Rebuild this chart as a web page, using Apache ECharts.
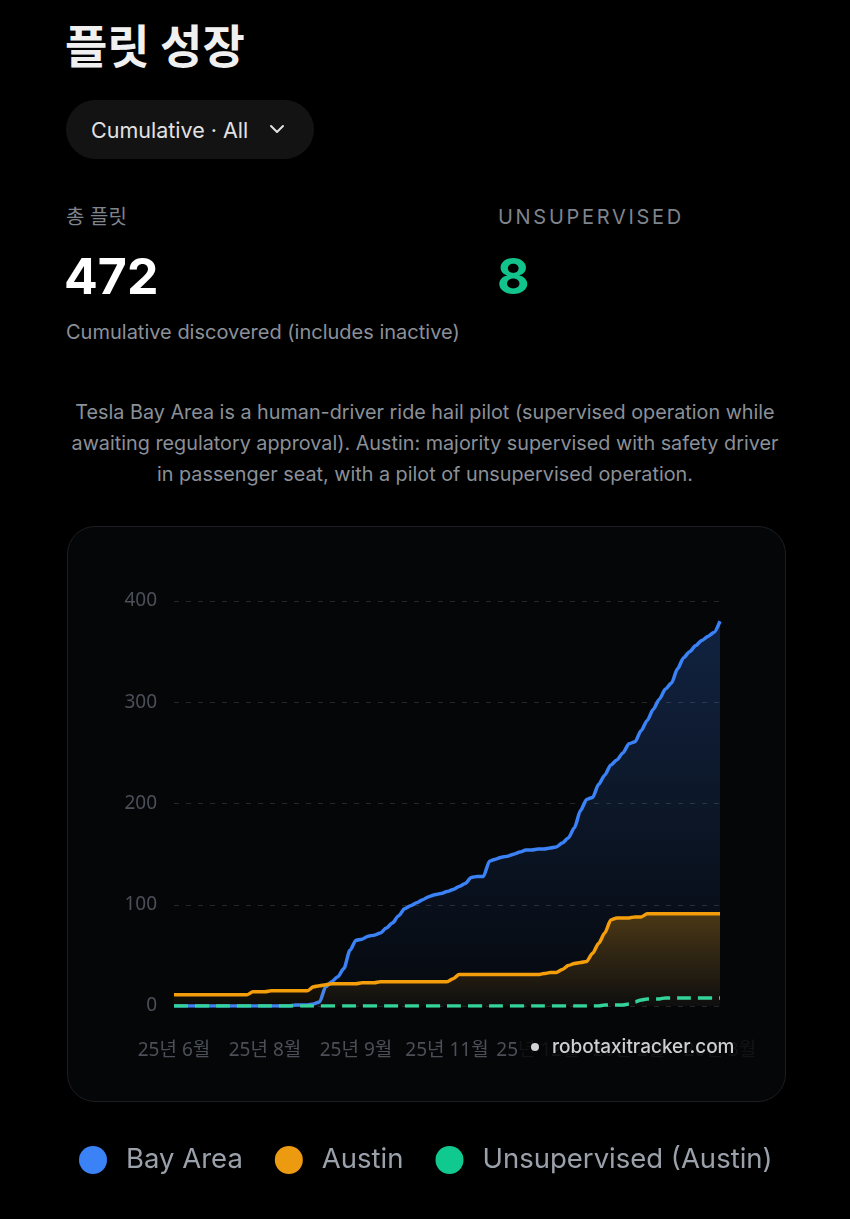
<!DOCTYPE html>
<html>
<head>
<meta charset="utf-8">
<script src="https://cdn.jsdelivr.net/npm/echarts@6/dist/echarts.min.js"></script>
<style>
  html, body { margin:0; padding:0; background:#000; }
  body { width:850px; height:1219px; position:relative; overflow:hidden; font-family: Inter, "Noto Sans CJK KR", sans-serif; }
  .abs { position:absolute; white-space:nowrap; }
  #title { left:65px; top:20px; font-size:46px; line-height:46px; height:46px; font-weight:700; color:#f0f0f0; font-family:"Noto Sans CJK KR", Inter, sans-serif; }
  #pill { left:66px; top:100px; width:248px; height:59px; border-radius:30px; background:#131314; }
  #pillText { left:91px; top:115px; height:30px; line-height:30px; font-size:21.5px; color:#e2e2e2; }
  #chev { left:268px; top:122px; }
  .lbl { font-size:20px; color:#7f848d; height:24px; line-height:24px; }
  .big { font-size:50px; font-weight:700; height:56px; line-height:56px; }
  #desc { left:0px; width:850px; top:397px; text-align:center; font-size:19.8px; line-height:31px; color:#8b9099; white-space:normal; }
  #card { left:67px; top:526px; width:717px; height:574px; border-radius:28px; border:1px solid #1d1e21; background:#050608; }
  #chart { position:absolute; left:0; top:510px; width:850px; height:700px; }
</style>
</head>
<body>
<div id="title" class="abs">플릿 성장</div>
<div id="pill" class="abs"></div>
<div id="pillText" class="abs">Cumulative · All</div>
<svg id="chev" class="abs" width="18" height="14" viewBox="0 0 18 14"><polyline points="3,4 9,10 15,4" fill="none" stroke="#e2e2e2" stroke-width="2" stroke-linecap="round" stroke-linejoin="round"/></svg>
<div class="abs lbl" style="left:66px;top:205px;">총 플릿</div>
<div class="abs lbl" style="left:498px;top:205px;letter-spacing:2.7px;">UNSUPERVISED</div>
<div class="abs big" style="left:64px;top:248px;color:#ffffff;">472</div>
<div class="abs big" style="left:497px;top:248px;color:#12c48b;">8</div>
<div class="abs lbl" style="left:66px;top:320px;color:#8b9099;">Cumulative discovered (includes inactive)</div>
<div id="desc" class="abs">Tesla Bay Area is a human-driver ride hail pilot (supervised operation while<br>awaiting regulatory approval). Austin: majority supervised with safety driver<br>in passenger seat, with a pilot of unsupervised operation.</div>
<div id="card" class="abs"></div>
<div id="chart"></div>
<script>
const dates = [
 '2025-06-22','2025-06-25','2025-06-28','2025-07-01','2025-07-04','2025-07-07','2025-07-10','2025-07-13','2025-07-16','2025-07-19',
 '2025-07-22','2025-07-25','2025-07-28','2025-07-30','2025-07-31','2025-08-01','2025-08-04','2025-08-07','2025-08-10','2025-08-13',
 '2025-08-16','2025-08-19','2025-08-22','2025-08-25','2025-08-28','2025-08-31','2025-09-02','2025-09-04','2025-09-06','2025-09-08',
 '2025-09-10','2025-09-14','2025-09-18','2025-09-22','2025-09-26','2025-09-30','2025-10-04','2025-10-08','2025-10-12','2025-10-16',
 '2025-10-20','2025-10-24','2025-10-28','2025-10-31','2025-11-02','2025-11-04','2025-11-07','2025-11-10','2025-11-13','2025-11-16',
 '2025-11-19','2025-11-22','2025-11-25','2025-11-28','2025-11-30','2025-12-02','2025-12-04','2025-12-06','2025-12-08','2025-12-10',
 '2025-12-12','2025-12-15','2025-12-18','2025-12-21','2025-12-24','2025-12-27','2025-12-30','2026-01-03','2026-01-07','2026-01-11',
 '2026-01-15','2026-01-19','2026-01-23','2026-01-27','2026-01-31','2026-02-02','2026-02-05','2026-02-08','2026-02-11','2026-02-14',
 '2026-02-17','2026-02-20','2026-02-23','2026-02-25','2026-02-27','2026-03-01','2026-03-03','2026-03-05','2026-03-07','2026-03-09',
 '2026-03-11'
];
const bayArea = [
 0,0,0,0,0,0,0,0,0,0,
 0,0,0,0,0,0,0,0,0,0,
 1,1,1,2,4,19,24,29,37,55,
 65,66,69,70,72,77,82,89,96,99,
 102,105,108,110,111,113,115,118,121,127,
 128,128,143,145,147,148,150,152,154,154,
 155,155,156,157,161,166,176,193,204,206,
 219,228,238,243,250,259,261,272,282,293,
 303,313,319,333,344,350,356,361,365,369,
 380
];
const austin = [
 11,11,11,11,11,11,11,11,11,11,
 11,11,11,14,14,14,15,15,15,15,
 15,15,15,19,20,21,22,22,22,22,
 22,23,23,23,24,24,24,24,24,24,
 24,24,24,24,24,24,27,31,31,31,
 31,31,31,31,31,31,31,31,31,31,
 31,32,33,33,36,40,42,43,44,52,
 62,72,85,87,87,87,88,88,91,91,
 91,91,91,91,91,91,91,91,91,91,
 91
];
const unsupervised = [
 0,0,0,0,0,0,0,0,0,0,
 0,0,0,0,0,0,0,0,0,0,
 0,0,0,0,0,0,0,0,0,0,
 0,0,0,0,0,0,0,0,0,0,
 0,0,0,0,0,0,0,0,0,0,
 0,0,0,0,0,0,0,0,0,0,
 0,0,0,0,0,0,0,0,0,0,
 0,1,1,1,1,2,4,6,7,7,
 7,8,8,8,8,8,8,8,8,8,
 8
];
const yTicks = [0, 100, 200, 300, 400];
const seriesNames = ['Bay Area', 'Austin', 'Unsupervised (Austin)'];
const colors = ['#3b82f6', '#ec9a10', '#10c98f'];

const chart = echarts.init(document.getElementById('chart'), null, {renderer:'canvas'});
const axisFont = '"Noto Sans", "Noto Sans CJK KR", sans-serif';
const grad = (r,g,b,a1,a2) => new echarts.graphic.LinearGradient(0,0,0,1,[{offset:0,color:`rgba(${r},${g},${b},${a1})`},{offset:1,color:`rgba(${r},${g},${b},${a2})`}]);
chart.setOption({
  backgroundColor: 'transparent',
  animation: false,
  grid: { left:174, right:130, top:91, bottom:204, outerBoundsMode:'none' },
  xAxis: {
    type:'category', data: dates, boundaryGap:false,
    axisLine:{show:false}, axisTick:{show:false},
    axisLabel:{ interval:14, margin:35, fontSize:19, color:'#4b4f57', fontFamily:axisFont,
      formatter: v => v.slice(2,4) + '년 ' + parseInt(v.slice(5,7),10) + '월' }
  },
  yAxis: {
    type:'value', min:yTicks[0], max:yTicks[yTicks.length-1], interval:100,
    axisLine:{show:false}, axisTick:{show:false},
    axisLabel:{ margin:17, fontSize:19, color:'#4b4f57', fontFamily:axisFont },
    splitLine:{ lineStyle:{ color:'#26272a', type:[5,7], width:1 } }
  },
  legend: {
    left:74, top:631, icon:'circle', itemWidth:28, itemHeight:28, itemGap:32,
    textStyle:{ fontSize:27.5, color:'#9ba1ab', fontFamily:'Inter, sans-serif', padding:[0,0,0,14] },
    data: seriesNames.map((n,i)=>({name:n, itemStyle:{color:colors[i]}}))
  },
  series: [
    { name:seriesNames[0], type:'line', data:bayArea, showSymbol:false, smooth:0.25, smoothMonotone:'x',
      itemStyle:{color:colors[0]}, lineStyle:{color:'#3b82f6', width:3.5},
      areaStyle:{ color: grad(59,130,246,0.34,0.04) }, z:2 },
    { name:seriesNames[1], type:'line', data:austin, showSymbol:false, smooth:0.25, smoothMonotone:'x',
      itemStyle:{color:colors[1]}, lineStyle:{color:'#f59e0b', width:3.5},
      areaStyle:{ color: grad(245,158,11,0.4,0.05) }, z:3 },
    { name:seriesNames[2], type:'line', data:unsupervised, showSymbol:false, smooth:0.25, smoothMonotone:'x',
      itemStyle:{color:colors[2]}, lineStyle:{color:'#34d399', width:3.5, type:[14,7]}, z:4 }
  ],
  graphic: [
    { type:'rect', z:100, shape:{x:520, y:519, width:236, height:36}, style:{fill:'rgba(5,6,8,0.82)'} },
    { type:'circle', z:101, shape:{cx:535, cy:537, r:4}, style:{fill:'#d4d4d4'} },
    { type:'text', z:101, x:552, y:537, style:{ text:'robotaxitracker.com', fill:'#cfcfcf', font:'500 19px Inter, sans-serif', verticalAlign:'middle' } }
  ]
});
</script>
</body>
</html>
